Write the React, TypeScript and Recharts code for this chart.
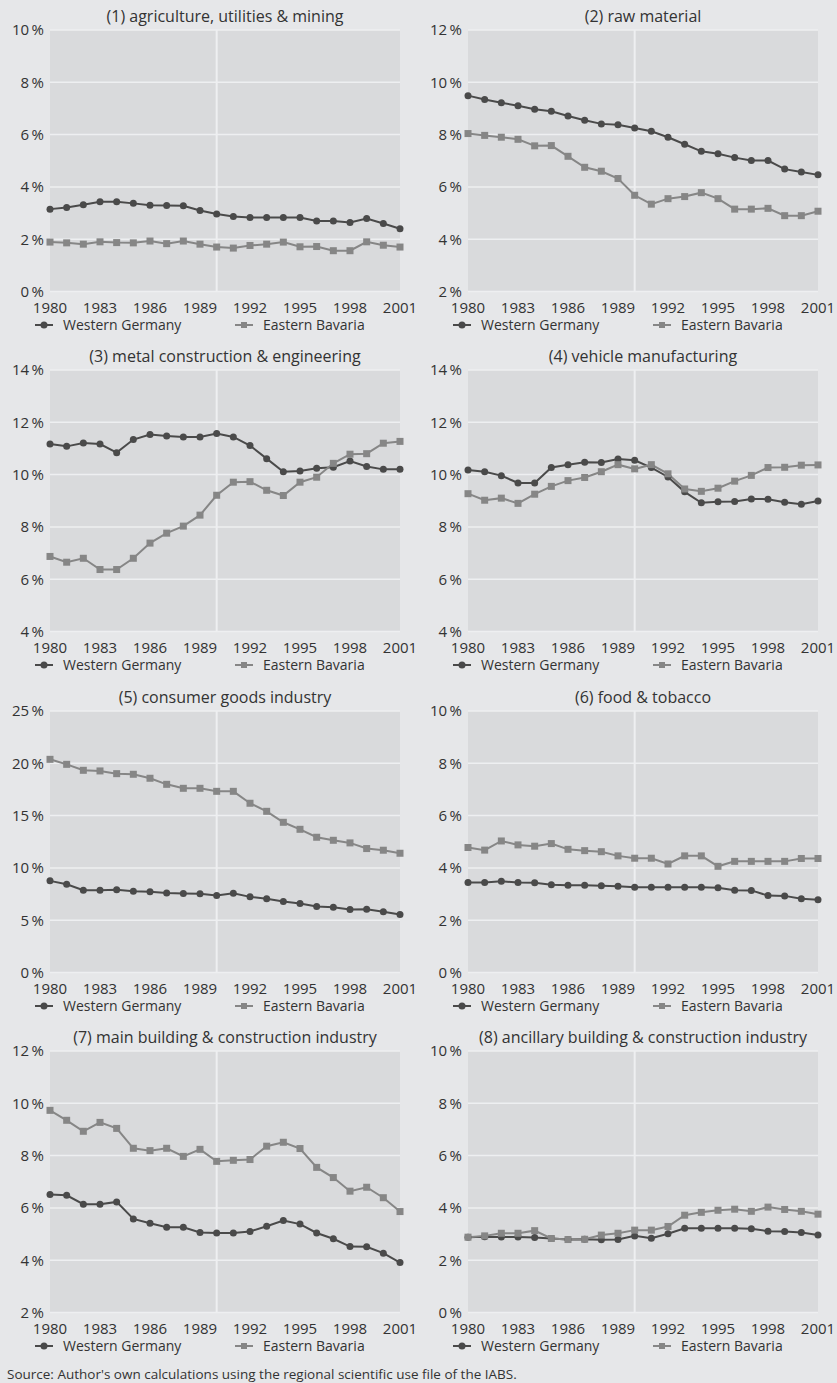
import type { CSSProperties, JSX } from "react";
import { CartesianGrid, Legend, Line, LineChart, ReferenceLine, XAxis, YAxis } from "recharts";

const years = [
  1980, 1981, 1982, 1983, 1984, 1985, 1986, 1987, 1988, 1989, 1990,
  1991, 1992, 1993, 1994, 1995, 1996, 1997, 1998, 1999, 2000, 2001,
];
const xTicks = [1980, 1983, 1986, 1989, 1992, 1995, 1998, 2001];

const titles = [
  "(1) agriculture, utilities & mining",
  "(2) raw material",
  "(3) metal construction & engineering",
  "(4) vehicle manufacturing",
  "(5) consumer goods industry",
  "(6) food & tobacco",
  "(7) main building & construction industry",
  "(8) ancillary building & construction industry",
];

const yTicks = [
  [0, 2, 4, 6, 8, 10],
  [2, 4, 6, 8, 10, 12],
  [4, 6, 8, 10, 12, 14],
  [4, 6, 8, 10, 12, 14],
  [0, 5, 10, 15, 20, 25],
  [0, 2, 4, 6, 8, 10],
  [2, 4, 6, 8, 10, 12],
  [0, 2, 4, 6, 8, 10],
];

// Western Germany, shares in %
const wg1 = [3.15, 3.21, 3.32, 3.43, 3.43, 3.37, 3.3, 3.29, 3.28, 3.1, 2.96, 2.87, 2.83, 2.83, 2.83, 2.83, 2.7, 2.7, 2.64, 2.79, 2.6, 2.4];
const wg2 = [9.49, 9.34, 9.22, 9.1, 8.97, 8.89, 8.71, 8.55, 8.41, 8.38, 8.25, 8.13, 7.9, 7.63, 7.36, 7.27, 7.12, 7.01, 7.01, 6.68, 6.57, 6.46];
const wg3 = [11.17, 11.08, 11.21, 11.17, 10.84, 11.34, 11.53, 11.48, 11.44, 11.44, 11.57, 11.44, 11.11, 10.61, 10.11, 10.14, 10.24, 10.28, 10.52, 10.31, 10.2, 10.2];
const wg4 = [10.18, 10.11, 9.96, 9.68, 9.68, 10.27, 10.38, 10.47, 10.46, 10.6, 10.55, 10.27, 9.91, 9.34, 8.92, 8.96, 8.97, 9.07, 9.06, 8.94, 8.87, 8.99];
const wg5 = [8.76, 8.44, 7.87, 7.87, 7.9, 7.77, 7.71, 7.61, 7.55, 7.52, 7.36, 7.58, 7.23, 7.04, 6.78, 6.59, 6.31, 6.24, 6.02, 6.05, 5.8, 5.54];
const wg6 = [3.44, 3.44, 3.49, 3.44, 3.43, 3.36, 3.34, 3.34, 3.32, 3.3, 3.26, 3.26, 3.26, 3.26, 3.26, 3.24, 3.15, 3.14, 2.94, 2.93, 2.82, 2.78];
const wg7 = [6.51, 6.48, 6.14, 6.14, 6.23, 5.58, 5.41, 5.26, 5.26, 5.06, 5.04, 5.04, 5.1, 5.3, 5.52, 5.38, 5.04, 4.82, 4.52, 4.51, 4.27, 3.91];
const wg8 = [2.88, 2.9, 2.89, 2.89, 2.87, 2.83, 2.79, 2.8, 2.78, 2.79, 2.93, 2.84, 3.01, 3.22, 3.22, 3.22, 3.22, 3.2, 3.11, 3.1, 3.06, 2.96];

// Eastern Bavaria, shares in %
const eb1 = [1.89, 1.86, 1.81, 1.9, 1.87, 1.86, 1.93, 1.83, 1.93, 1.81, 1.7, 1.66, 1.76, 1.81, 1.89, 1.71, 1.72, 1.56, 1.56, 1.9, 1.77, 1.7];
const eb2 = [8.04, 7.97, 7.9, 7.82, 7.57, 7.58, 7.17, 6.75, 6.6, 6.32, 5.68, 5.34, 5.55, 5.63, 5.78, 5.55, 5.15, 5.15, 5.18, 4.9, 4.9, 5.07];
const eb3 = [6.87, 6.65, 6.8, 6.37, 6.37, 6.8, 7.38, 7.76, 8.03, 8.45, 9.21, 9.71, 9.73, 9.4, 9.2, 9.71, 9.9, 10.43, 10.78, 10.8, 11.2, 11.27];
const eb4 = [9.27, 9.02, 9.1, 8.9, 9.25, 9.55, 9.77, 9.89, 10.11, 10.38, 10.22, 10.38, 10.03, 9.45, 9.36, 9.48, 9.75, 9.97, 10.27, 10.28, 10.36, 10.37];
const eb5 = [20.38, 19.9, 19.33, 19.27, 19.01, 18.95, 18.57, 17.99, 17.61, 17.61, 17.32, 17.32, 16.18, 15.41, 14.36, 13.69, 12.93, 12.64, 12.39, 11.85, 11.69, 11.4];
const eb6 = [4.78, 4.68, 5.03, 4.88, 4.83, 4.93, 4.71, 4.66, 4.62, 4.46, 4.37, 4.37, 4.15, 4.46, 4.46, 4.06, 4.25, 4.25, 4.25, 4.25, 4.36, 4.36];
const eb7 = [9.73, 9.35, 8.93, 9.27, 9.04, 8.28, 8.19, 8.28, 7.97, 8.24, 7.78, 7.82, 7.85, 8.36, 8.51, 8.27, 7.55, 7.16, 6.64, 6.79, 6.39, 5.86];
const eb8 = [2.88, 2.93, 3.03, 3.03, 3.13, 2.83, 2.79, 2.8, 2.96, 3.03, 3.15, 3.15, 3.29, 3.72, 3.83, 3.91, 3.95, 3.87, 4.03, 3.94, 3.87, 3.76];

const wgSeries = [wg1, wg2, wg3, wg4, wg5, wg6, wg7, wg8];
const ebSeries = [eb1, eb2, eb3, eb4, eb5, eb6, eb7, eb8];

const PAGE_BG = "#e6e7e9";
const PLOT_BG = "#d9dadc";
const GRID = "#eeeff1";
const WG_COLOR = "#4a4a4a";
const EB_COLOR = "#868686";
const TEXT = "#333333";
const FONT = '"Open Sans", "DejaVu Sans", sans-serif';

const CHART_W = 418;
const CHART_H = 340;
const COL_X = [0, 418];
const ROW_Y = [0, 340, 681, 1021];

const tickStyle = { fill: TEXT, fontSize: 15, fontFamily: FONT };

const titleStyle: CSSProperties = {
  position: "absolute",
  left: 30,
  width: 390,
  top: 6,
  textAlign: "center",
  fontFamily: FONT,
  fontSize: 16,
  lineHeight: "20px",
  color: TEXT,
  whiteSpace: "nowrap",
};

const LegendContent = (): JSX.Element => (
  <div style={{ position: "relative", height: 22, fontFamily: FONT, fontSize: 14, color: TEXT }}>
    <svg width={20} height={22} style={{ position: "absolute", left: 35, top: 0 }}>
      <line x1={0} x2={18} y1={11} y2={11} stroke={WG_COLOR} strokeWidth={2} />
      <circle cx={9} cy={11} r={3.5} fill={WG_COLOR} />
    </svg>
    <span style={{ position: "absolute", left: 63, top: 0, lineHeight: "22px", whiteSpace: "nowrap" }}>
      Western Germany
    </span>
    <svg width={20} height={22} style={{ position: "absolute", left: 235, top: 0 }}>
      <line x1={0} x2={18} y1={11} y2={11} stroke={EB_COLOR} strokeWidth={2} />
      <rect x={6} y={8} width={6} height={6} fill={EB_COLOR} />
    </svg>
    <span style={{ position: "absolute", left: 263, top: 0, lineHeight: "22px", whiteSpace: "nowrap" }}>
      Eastern Bavaria
    </span>
  </div>
);

const squareDot = (p: any): JSX.Element => (
  <rect key={`sq-${p.index}`} x={p.cx - 3.5} y={p.cy - 3.5} width={7} height={7} fill={EB_COLOR} />
);

const Panel = ({ i }: { i: number }): JSX.Element => {
  const data = years.map((year, k) => ({ year, wg: wgSeries[i][k], eb: ebSeries[i][k] }));
  const ticks = yTicks[i];
  return (
    <div
      style={{
        position: "absolute",
        left: COL_X[i % 2],
        top: ROW_Y[Math.floor(i / 2)],
        width: CHART_W,
        height: CHART_H,
      }}
    >
      <div style={titleStyle}>{titles[i]}</div>
      <LineChart width={CHART_W} height={CHART_H} data={data} margin={{ top: 30, right: 18, bottom: 4.5, left: 0 }}>
        <CartesianGrid vertical={false} fill={PLOT_BG} stroke={GRID} strokeWidth={1.5} />
        <XAxis
          dataKey="year"
          type="number"
          domain={[1980, 2001]}
          ticks={xTicks}
          interval={0}
          axisLine={false}
          tickLine={false}
          tickSize={6}
          tickMargin={5}
          height={22}
          tick={tickStyle}
        />
        <YAxis
          type="number"
          domain={[ticks[0], ticks[ticks.length - 1]]}
          ticks={ticks}
          interval={0}
          axisLine={false}
          tickLine={false}
          tickSize={4}
          tickMargin={2}
          width={50}
          tick={tickStyle}
          tickFormatter={(v: number) => `${v}\u2009%`}
        />
        <ReferenceLine x={1990} stroke={GRID} strokeWidth={2} />
        <Line
          dataKey="wg"
          stroke={WG_COLOR}
          strokeWidth={2}
          dot={{ r: 3.5, fill: WG_COLOR, stroke: WG_COLOR, strokeWidth: 0 }}
          isAnimationActive={false}
        />
        <Line dataKey="eb" stroke={EB_COLOR} strokeWidth={2} dot={squareDot} isAnimationActive={false} />
        <Legend
          verticalAlign="bottom"
          height={22}
          content={<LegendContent />}
          wrapperStyle={{ left: 0, width: CHART_W }}
        />
      </LineChart>
    </div>
  );
};

export default function App(): JSX.Element {
  return (
    <div
      style={{
        position: "absolute",
        left: 0,
        top: 0,
        width: 837,
        height: 1383,
        background: PAGE_BG,
        overflow: "hidden",
      }}
    >
      {titles.map((_, i) => (
        <Panel key={i} i={i} />
      ))}
      <div
        style={{
          position: "absolute",
          left: 7,
          top: 1366,
          fontFamily: FONT,
          fontSize: 13.5,
          lineHeight: "16px",
          color: TEXT,
          whiteSpace: "nowrap",
        }}
      >
        Source: Author's own calculations using the regional scientific use file of the IABS.
      </div>
    </div>
  );
}
